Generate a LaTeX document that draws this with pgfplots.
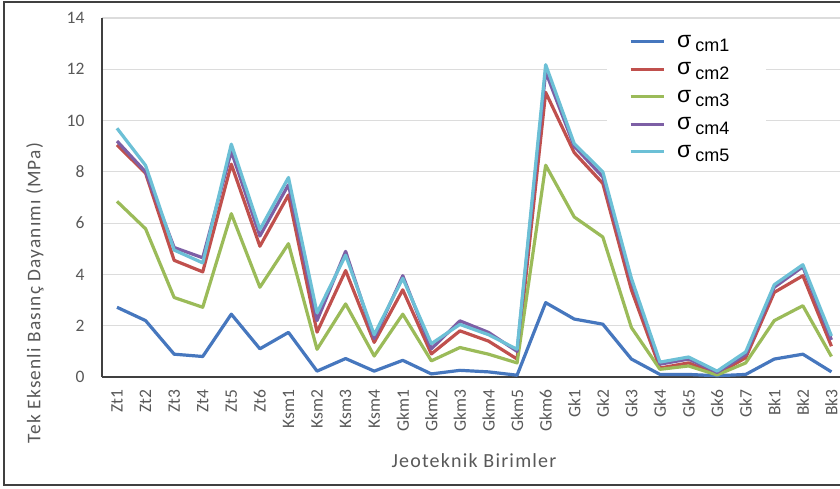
\documentclass[border=0pt]{standalone}
\usepackage{fontspec}
\setmainfont{Carlito}
\newfontfamily\titlefont[LetterSpace=6]{Carlito}
\newfontfamily\legfont{Liberation Sans}
\usepackage{pgfplots}
\pgfplotsset{compat=1.18}
\definecolor{cA}{HTML}{4677BE}
\definecolor{cB}{HTML}{C0504D}
\definecolor{cC}{HTML}{9BBB59}
\definecolor{cD}{HTML}{7D5FA5}
\definecolor{cE}{HTML}{6CC0D6}
\definecolor{txt}{HTML}{595959}
\definecolor{grd}{HTML}{DCDCDC}
\definecolor{axl}{HTML}{404040}
\newcommand{\leg}[1]{\hspace*{11pt}{\fontsize{23}{23}\selectfont σ}\hspace{4pt}\raisebox{-4.5pt}{\fontsize{18}{18}\selectfont cm#1}\hspace*{14pt}}
\begin{document}
\begin{tikzpicture}
\useasboundingbox (0,0) rectangle (840pt,-488pt);
\fill[white] (0,0) rectangle (840pt,-488pt);
\draw[line width=1.6pt, color=axl] (4pt,-2pt) rectangle (860pt,-485pt);
\begin{axis}[
  at={(102pt,-377pt)}, anchor=south west,
  scale only axis, width=738pt, height=359pt,
  xmin=-0.525, xmax=25.3, ymin=0, ymax=14,
  axis x line=bottom, axis y line=left,
  axis line style={-, color=axl, line width=1.4pt},
  ytick={0,2,...,14},
  xtick={0,...,25},
  xticklabels={Zt1,Zt2,Zt3,Zt4,Zt5,Zt6,Ksm1,Ksm2,Ksm3,Ksm4,Gkm1,Gkm2,Gkm3,Gkm4,Gkm5,Gkm6,Gk1,Gk2,Gk3,Gk4,Gk5,Gk6,Gk7,Bk1,Bk2,Bk3},
  major tick length=0pt,
  ymajorgrids, grid style={grd, line width=1.2pt},
  /pgf/number format/assume math mode=true,
  yticklabel style={font=\fontsize{17.5}{17.5}\selectfont, text=txt},
  xticklabel style={font=\fontsize{17.5}{17.5}\selectfont, text=txt, rotate=90, anchor=east},
  yticklabel shift=14pt,
  xticklabel shift=9pt,
  xlabel={Jeoteknik Birimler},
  ylabel={Tek Eksenli Basınç Dayanımı (MPa)},
  xlabel style={font=\titlefont\fontsize{20}{20}\selectfont, text=txt, at={(axis description cs:0.504,-0.234)}, anchor=center},
  ylabel style={font=\titlefont\fontsize{19.3}{19.3}\selectfont, text=txt, at={(axis description cs:-0.0908,0.234)}, anchor=center, rotate=0},
  legend style={at={(axis description cs:0.684,0.978)}, anchor=north west, draw=none, fill=white,
    inner xsep=22pt, inner ysep=2pt, row sep=0pt,
    nodes={text height=18pt, text depth=7.5pt, inner sep=1pt},
    font=\legfont},
  legend cell align=left,
  legend image code/.code={\draw[line width=3.2pt] (0pt,0pt) -- (33pt,0pt);},
  every axis plot/.append style={line width=3.2pt, line join=round, mark=none},
]
\addplot[cA] coordinates {(0,2.72)(1,2.2)(2,0.89)(3,0.8)(4,2.45)(5,1.1)(6,1.74)(7,0.23)(8,0.72)(9,0.23)(10,0.65)(11,0.12)(12,0.26)(13,0.2)(14,0.07)(15,2.9)(16,2.26)(17,2.06)(18,0.7)(19,0.1)(20,0.1)(21,0.05)(22,0.1)(23,0.7)(24,0.89)(25,0.2)};
\addlegendentry{\leg{1}}
\addplot[cB] coordinates {(0,9.05)(1,7.95)(2,4.55)(3,4.1)(4,8.3)(5,5.1)(6,7.1)(7,1.75)(8,4.15)(9,1.35)(10,3.4)(11,0.9)(12,1.8)(13,1.4)(14,0.7)(15,11.1)(16,8.75)(17,7.55)(18,3.4)(19,0.35)(20,0.55)(21,0.12)(22,0.75)(23,3.3)(24,3.95)(25,1.2)};
\addlegendentry{\leg{2}}
\addplot[cC] coordinates {(0,6.85)(1,5.78)(2,3.1)(3,2.72)(4,6.37)(5,3.5)(6,5.2)(7,1.08)(8,2.85)(9,0.82)(10,2.45)(11,0.63)(12,1.15)(13,0.89)(14,0.55)(15,8.26)(16,6.24)(17,5.46)(18,1.93)(19,0.3)(20,0.43)(21,0.08)(22,0.55)(23,2.2)(24,2.78)(25,0.8)};
\addlegendentry{\leg{3}}
\addplot[cD] coordinates {(0,9.2)(1,8.0)(2,5.05)(3,4.65)(4,8.8)(5,5.5)(6,7.5)(7,2.2)(8,4.9)(9,1.5)(10,3.95)(11,1.1)(12,2.19)(13,1.74)(14,1.0)(15,11.9)(16,9.0)(17,7.8)(18,3.75)(19,0.5)(20,0.7)(21,0.18)(22,0.88)(23,3.5)(24,4.3)(25,1.45)};
\addlegendentry{\leg{4}}
\addplot[cE] coordinates {(0,9.7)(1,8.25)(2,4.95)(3,4.45)(4,9.08)(5,5.75)(6,7.78)(7,2.5)(8,4.75)(9,1.65)(10,3.85)(11,1.3)(12,2.05)(13,1.65)(14,1.08)(15,12.18)(16,9.1)(17,8.0)(18,3.85)(19,0.58)(20,0.78)(21,0.23)(22,0.98)(23,3.6)(24,4.38)(25,1.6)};
\addlegendentry{\leg{5}}
\end{axis}
\end{tikzpicture}
\end{document}
